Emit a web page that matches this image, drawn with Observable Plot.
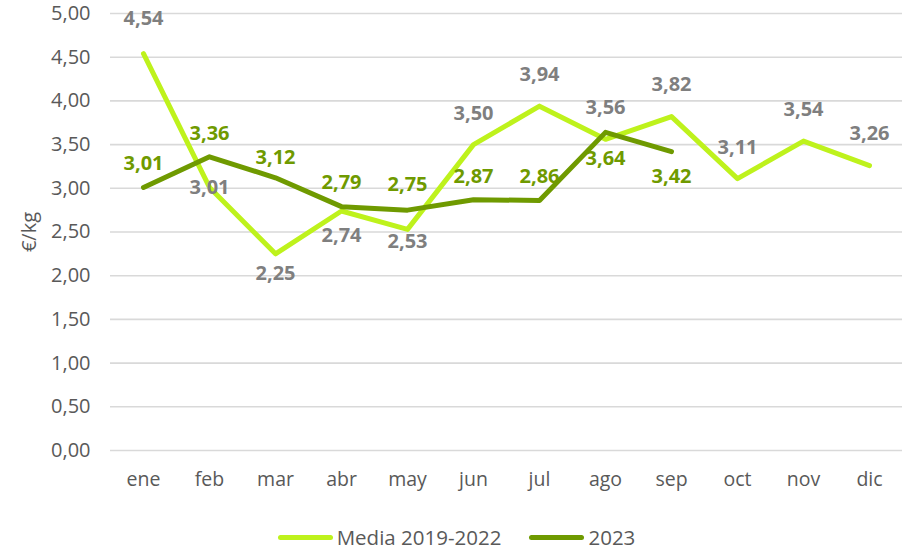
<!DOCTYPE html>
<html><head><meta charset="utf-8">
<script src="https://cdn.jsdelivr.net/npm/d3@7"></script>
<script src="https://cdn.jsdelivr.net/npm/@observablehq/plot@0.6"></script>
<style>
body{margin:0;background:#fff;font-family:"Open Sans",sans-serif;}
#chart{width:905px;}
.legend{display:flex;justify-content:center;align-items:center;height:24px;margin-top:15px;padding-left:8px;font-size:20.5px;color:#595959;}
.legend .sw{display:inline-block;width:55px;height:5px;border-radius:3px;margin-right:4px;}
.legend .item{display:flex;align-items:center;}
</style></head>
<body>
<div id="chart"></div>
<script>
const months = ["ene","feb","mar","abr","may","jun","jul","ago","sep","oct","nov","dic"];
const media = [4.54,3.01,2.25,2.74,2.53,3.50,3.94,3.56,3.82,3.11,3.54,3.26];
const y2023 = [3.01,3.36,3.12,2.79,2.75,2.87,2.86,3.64,3.42];
const yTicks = [0,0.5,1,1.5,2,2.5,3,3.5,4,4.5,5];
const seriesNames = ["Media 2019-2022","2023"];
const yTitle = "€/kg";

const cLight = "#BEF21C", cDark = "#6F9A00";
const fmt = v => v.toFixed(2).replace(".", ",");
const mediaData = media.map((v,i)=>({m:months[i], v}));
const d23Data = y2023.map((v,i)=>({m:months[i], v}));
const mediaDy = [-35,0,20,25,12,-31,-32,-32,-32,-31,-32,-32];
const d23Dy = [-24,-23,-20,-24,-26,-23,-24,26,25];

const labelMarks = [
  ...mediaData.map((d,i)=>Plot.text([d],{x:"m",y:"v",text:d=>fmt(d.v),dy:mediaDy[i],fill:"#7F7F7F",fontWeight:"bold",fontSize:20})),
  ...d23Data.map((d,i)=>Plot.text([d],{x:"m",y:"v",text:d=>fmt(d.v),dy:d23Dy[i],fill:cDark,fontWeight:"bold",fontSize:20}))
];

const chart = Plot.plot({
  width:905, height:510,
  marginLeft:110, marginRight:3, marginTop:13, marginBottom:60,
  style:{fontFamily:"Open Sans, sans-serif", fontSize:"19.5px", color:"#595959", background:"#fff"},
  x:{type:"point", domain:months, padding:0.5},
  y:{domain:[0,5]},
  marks:[
    Plot.ruleY(yTicks,{stroke:"#D9D9D9",strokeWidth:1.6}),
    Plot.axisY(yTicks,{tickSize:0,tickPadding:20,tickFormat:fmt,fill:"#595959",fontSize:20,label:null}),
    Plot.text([yTitle],{frameAnchor:"left",dx:-81,rotate:-90,text:d=>d,fill:"#595959",fontSize:20,textAnchor:"middle"}),
    Plot.axisX({tickSize:0,tickPadding:22,fill:"#595959",fontSize:19.5,label:null}),
    Plot.line(mediaData,{x:"m",y:"v",stroke:cLight,strokeWidth:5,strokeLinejoin:"round",strokeLinecap:"round"}),
    Plot.line(d23Data,{x:"m",y:"v",stroke:cDark,strokeWidth:5,strokeLinejoin:"round",strokeLinecap:"round"}),
    ...labelMarks
  ]
});
document.getElementById("chart").appendChild(chart);

const lg = document.createElement("div");
lg.className = "legend";
lg.innerHTML = `<span class="item"><span class="sw" style="background:${cLight}"></span>${seriesNames[0]}</span>
<span class="item" style="margin-left:28px"><span class="sw" style="background:${cDark}"></span>${seriesNames[1]}</span>`;
document.getElementById("chart").appendChild(lg);
</script>
</body></html>
